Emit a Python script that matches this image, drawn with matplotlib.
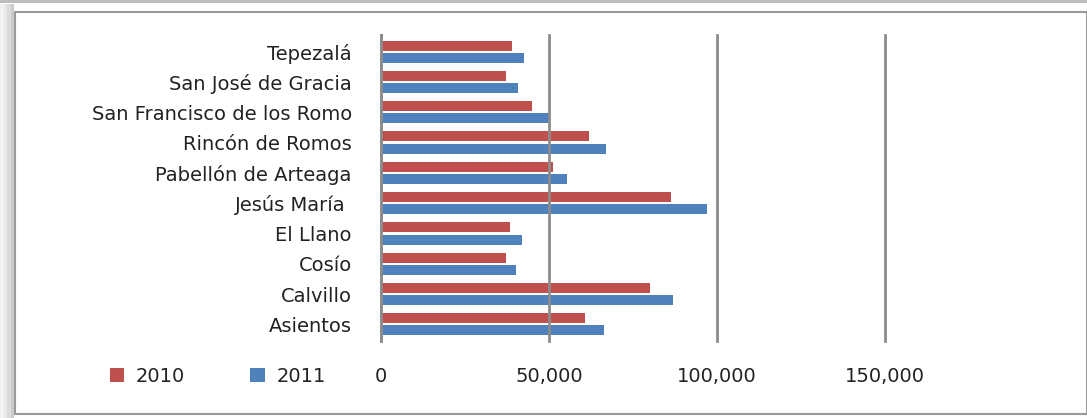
import numpy as np
import matplotlib
matplotlib.use('Agg')
from matplotlib import pyplot as plt
from matplotlib.patches import Rectangle

municipios = ['Asientos', 'Calvillo', 'Cosío', 'El Llano', 'Jesús María ',
              'Pabellón de Arteaga', 'Rincón de Romos',
              'San Francisco de los Romo', 'San José de Gracia', 'Tepezalá']
pob_2010 = [60800, 80200, 37200, 38400, 86300, 51100, 62000, 45100, 37200, 39000]
pob_2011 = [66300, 86900, 40300, 42000, 97200, 55400, 66900, 50200, 40800, 42600]
x_ticks = [0, 50000, 100000, 150000]

rojo = '#C0504D'
azul = '#4F81BD'
gris = '#8C8C8C'

plt.rcParams['font.family'] = ['DejaVu Sans']

fig = plt.figure(figsize=(10.87, 4.18), dpi=100)

# marco del grafico
fig.patches.append(Rectangle((0, 0.992), 1, 0.008, transform=fig.transFigure,
                             facecolor='#BDBDBD', edgecolor='none', zorder=0))
for i, a in enumerate([0.10, 0.18, 0.28, 0.40]):
    fig.patches.append(Rectangle((i * 3.5 / 1087, 0.0), 3.5 / 1087, 0.99,
                                 transform=fig.transFigure, facecolor='#808080',
                                 alpha=a, edgecolor='none', zorder=0))
fig.patches.append(Rectangle((15 / 1087, 4 / 418), 1 - 15 / 1087, 1 - 16 / 418,
                             transform=fig.transFigure, facecolor='white',
                             edgecolor='#9A9A9A', linewidth=1.5, zorder=1))

ax = fig.add_axes([381 / 1087, 1 - 341 / 418, (884.7 - 381) / 1087, (341 - 35) / 418])
ax.set_zorder(2)
ax.patch.set_alpha(0)

y = np.arange(len(municipios))
h = 0.33
b1 = ax.barh(y + 0.2, pob_2010, height=h, color=rojo, label='2010', zorder=2)
b2 = ax.barh(y - 0.2, pob_2011, height=h, color=azul, label='2011', zorder=2)

ax.set_xlim(0, 150000)
ax.set_ylim(-0.55, len(municipios) - 0.45)
ax.set_xticks(x_ticks)
ax.set_xticklabels([f'{v:,}' for v in x_ticks])
ax.set_yticks(y)
ax.set_yticklabels(municipios)
ax.set_axisbelow(False)
ax.xaxis.grid(True, color=gris, linewidth=2)
for gl in ax.get_xgridlines():
    gl.set_clip_on(False)
ax.tick_params(axis='x', length=0, pad=19, labelsize=14, labelcolor='#222222')
ax.tick_params(axis='y', length=0, pad=21, labelsize=14, labelcolor='#222222')
for s in ['top', 'right', 'bottom']:
    ax.spines[s].set_visible(False)
ax.spines['left'].set_color(gris)
ax.spines['left'].set_linewidth(2)

fig.legend(handles=[b1, b2], loc='center left', bbox_to_anchor=(92 / 1087, 1 - 376 / 418),
           ncol=2, frameon=False, fontsize=14, handlelength=0.75, handleheight=0.75,
           columnspacing=3.35, handletextpad=0.6, labelcolor='#222222')

plt.savefig('out.png', dpi=100)
